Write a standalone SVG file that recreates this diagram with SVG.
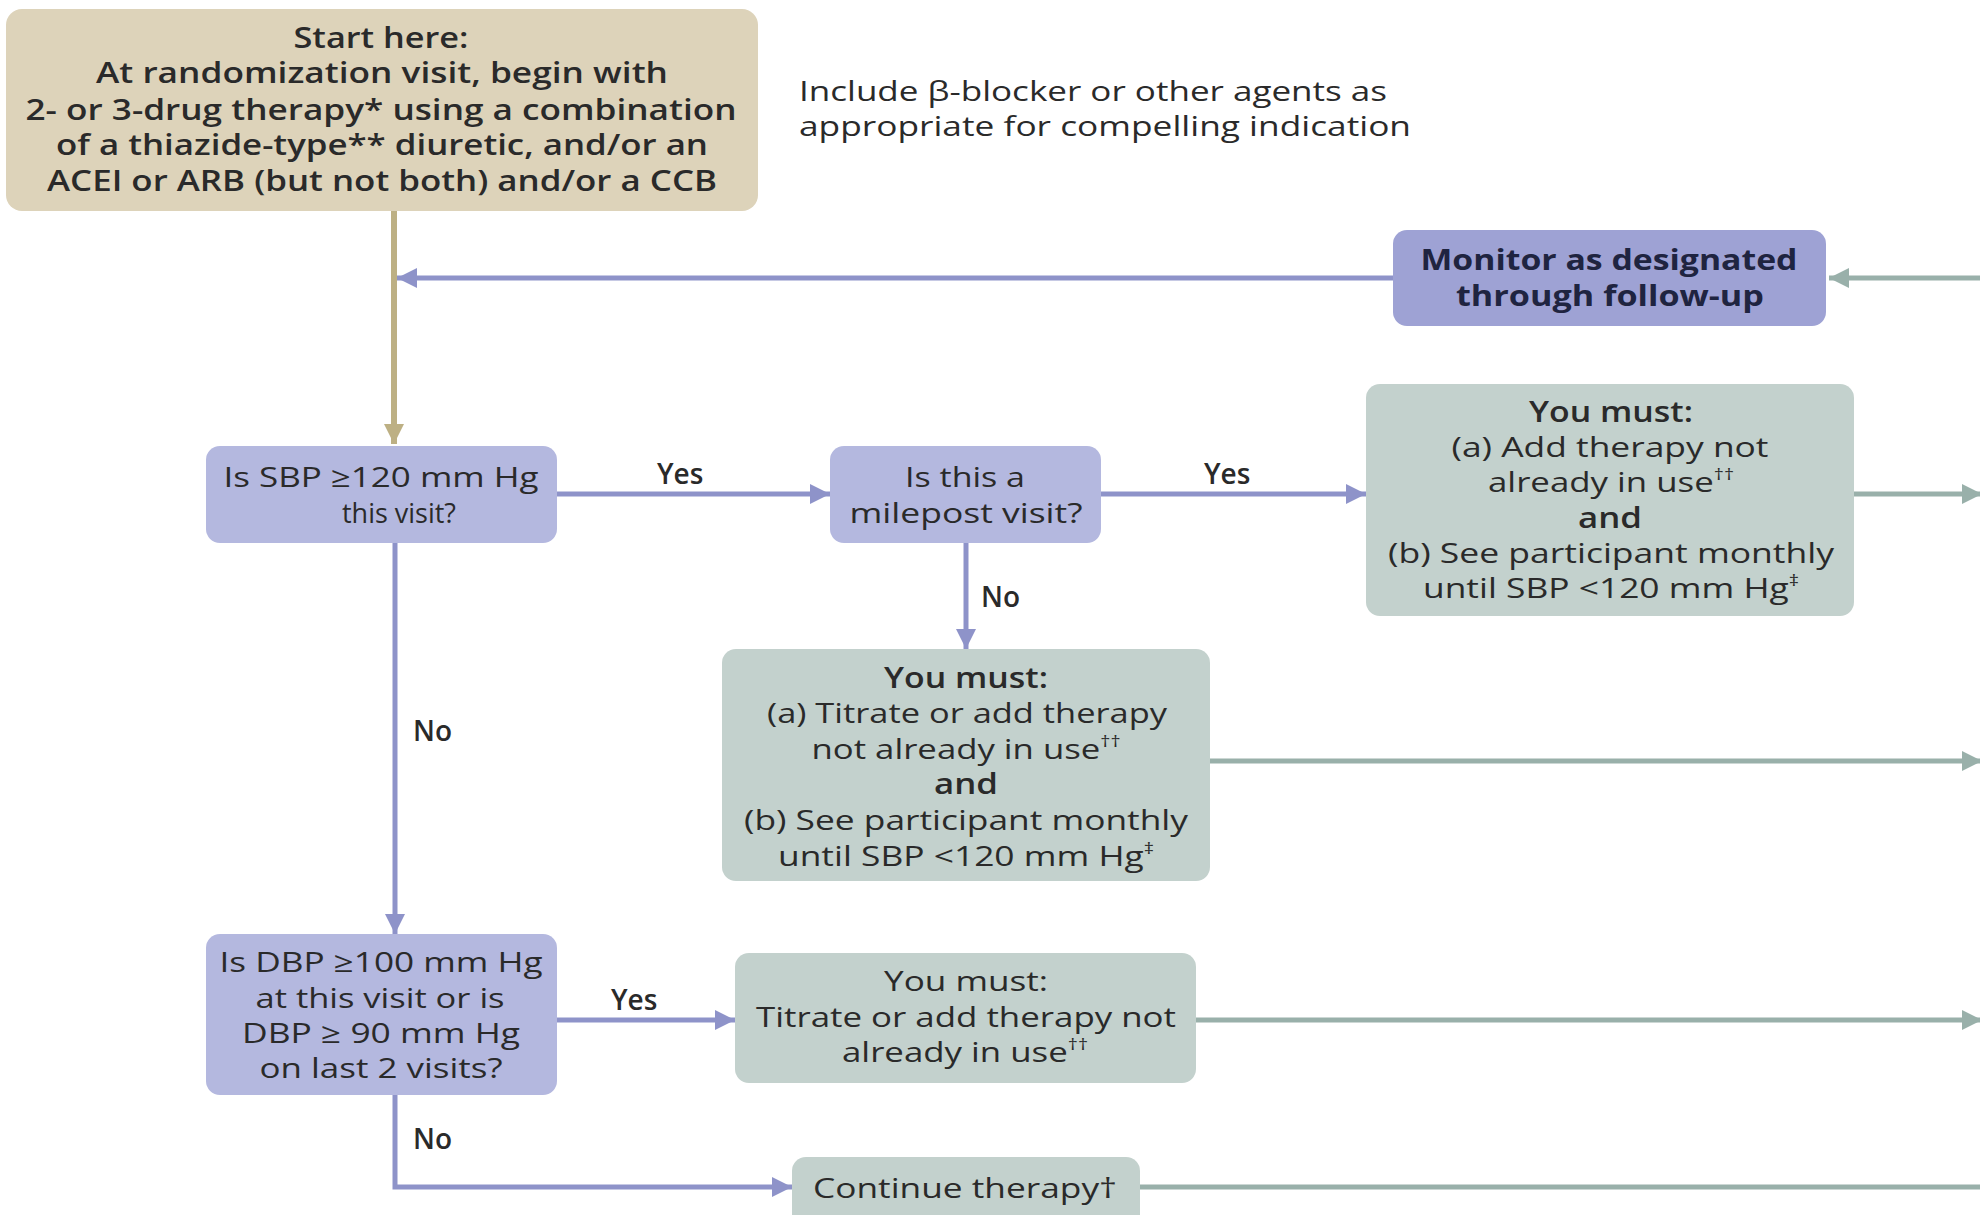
<svg xmlns="http://www.w3.org/2000/svg" width="1980" height="1215" viewBox="0 0 1980 1215">
<style>
text{font-family:"Open Sans","Noto Sans","Liberation Sans",sans-serif;fill:#2a2a2a;font-size:28px;text-anchor:middle}
.c{font-size:28px}
.b{font-weight:600}
.bb{font-weight:700;fill:#1f2440}
.lbl{font-weight:600;text-anchor:start}
.tan{fill:#DDD3BA}
.blue{fill:#B4B8DF}
.mon{fill:#9EA2D4}
.grn{fill:#C3D1CD}
.lb{stroke:#8E93C9;stroke-width:5;fill:none}
.lg{stroke:#99B0AA;stroke-width:5;fill:none}
.lt{stroke:#BDB084;stroke-width:6;fill:none}
</style>
<defs>
<marker id="ab" markerUnits="userSpaceOnUse" markerWidth="22" markerHeight="22" refX="20" refY="11" orient="auto"><path d="M0,1 L20,11 L0,21 Z" fill="#8E93C9"/></marker>
<marker id="ag" markerUnits="userSpaceOnUse" markerWidth="22" markerHeight="22" refX="20" refY="11" orient="auto"><path d="M0,1 L20,11 L0,21 Z" fill="#99B0AA"/></marker>
<marker id="at" markerUnits="userSpaceOnUse" markerWidth="22" markerHeight="22" refX="20" refY="11" orient="auto"><path d="M0,1 L20,11 L0,21 Z" fill="#BDB084"/></marker>
</defs>
<rect width="1980" height="1215" fill="#ffffff"/>
<g id="connectors">
<path class="lt" d="M394,210 L394,444" marker-end="url(#at)"/>
<path class="lb" d="M1393,278 L397,278" marker-end="url(#ab)"/>
<path class="lg" d="M1980,278 L1829,278" marker-end="url(#ag)"/>
<path class="lb" d="M557,494 L830,494" marker-end="url(#ab)"/>
<path class="lb" d="M1101,494 L1366,494" marker-end="url(#ab)"/>
<path class="lg" d="M1854,494 L1982,494" marker-end="url(#ag)"/>
<path class="lb" d="M966,543 L966,649" marker-end="url(#ab)"/>
<path class="lg" d="M1210,761 L1982,761" marker-end="url(#ag)"/>
<path class="lb" d="M395,543 L395,934" marker-end="url(#ab)"/>
<path class="lb" d="M557,1020 L735,1020" marker-end="url(#ab)"/>
<path class="lg" d="M1196,1020 L1982,1020" marker-end="url(#ag)"/>
<path class="lb" d="M395,1095 L395,1187 L792,1187" marker-end="url(#ab)"/>
<path class="lg" d="M1140,1187 L1980,1187"/>
<text class="lbl" x="657" y="484">Yes</text>
<text class="lbl" x="1204" y="484">Yes</text>
<text class="lbl" x="981" y="607">No</text>
<text class="lbl" x="413" y="741">No</text>
<text class="lbl" x="611" y="1010">Yes</text>
<text class="lbl" x="413" y="1149">No</text>
</g>
<g id="start">
<rect class="tan" x="6" y="9" width="752" height="202" rx="16"/>
<text class="b" x="381" y="48" textLength="175" lengthAdjust="spacingAndGlyphs">Start here:</text>
<text class="b" x="382" y="83" textLength="572" lengthAdjust="spacingAndGlyphs">At randomization visit, begin with</text>
<text class="b" x="381" y="120" textLength="711" lengthAdjust="spacingAndGlyphs">2- or 3-drug therapy* using a combination</text>
<text class="b" x="382" y="155" textLength="652" lengthAdjust="spacingAndGlyphs">of a thiazide-type** diuretic, and/or an</text>
<text class="b" x="382" y="191" textLength="670" lengthAdjust="spacingAndGlyphs">ACEI or ARB (but not both) and/or a CCB</text>
</g>
<g id="note">
<text x="799" y="101" style="text-anchor:start" textLength="588" lengthAdjust="spacingAndGlyphs">Include β-blocker or other agents as</text>
<text x="799" y="136" style="text-anchor:start" textLength="612" lengthAdjust="spacingAndGlyphs">appropriate for compelling indication</text>
</g>
<g id="monitor">
<rect class="mon" x="1393" y="230" width="433" height="96" rx="14"/>
<text class="bb" x="1609" y="270" textLength="377" lengthAdjust="spacingAndGlyphs">Monitor as designated</text>
<text class="bb" x="1610" y="306" textLength="308" lengthAdjust="spacingAndGlyphs">through follow-up</text>
</g>
<g id="sbp">
<rect class="blue" x="206" y="446" width="351" height="97" rx="14"/>
<text class="c" x="381" y="487" textLength="315" lengthAdjust="spacingAndGlyphs">Is SBP ≥120 mm Hg</text>
<text class="c" x="399" y="523" textLength="114" lengthAdjust="spacingAndGlyphs">this visit?</text>
</g>
<g id="milepost">
<rect class="blue" x="830" y="446" width="271" height="97" rx="14"/>
<text class="c" x="965" y="487" textLength="120" lengthAdjust="spacingAndGlyphs">Is this a</text>
<text class="c" x="966" y="523" textLength="233" lengthAdjust="spacingAndGlyphs">milepost visit?</text>
</g>
<g id="must1">
<rect class="grn" x="1366" y="384" width="488" height="232" rx="14"/>
<text class="b" x="1611" y="422" textLength="164" lengthAdjust="spacingAndGlyphs">You must:</text>
<text x="1610" y="457" textLength="317" lengthAdjust="spacingAndGlyphs">(a) Add therapy not</text>
<text x="1611" y="492" textLength="246" lengthAdjust="spacingAndGlyphs">already in use<tspan font-size="16" dy="-12">††</tspan></text>
<text class="b" x="1610" y="528" textLength="64" lengthAdjust="spacingAndGlyphs">and</text>
<text x="1611" y="563" textLength="446" lengthAdjust="spacingAndGlyphs">(b) See participant monthly</text>
<text x="1611" y="598" textLength="376" lengthAdjust="spacingAndGlyphs">until SBP &lt;120 mm Hg<tspan font-size="16" dy="-12">‡</tspan></text>
</g>
<g id="must2">
<rect class="grn" x="722" y="649" width="488" height="232" rx="14"/>
<text class="b" x="966" y="688" textLength="164" lengthAdjust="spacingAndGlyphs">You must:</text>
<text x="967" y="723" textLength="400" lengthAdjust="spacingAndGlyphs">(a) Titrate or add therapy</text>
<text x="966" y="759" textLength="309" lengthAdjust="spacingAndGlyphs">not already in use<tspan font-size="16" dy="-12">††</tspan></text>
<text class="b" x="966" y="794" textLength="64" lengthAdjust="spacingAndGlyphs">and</text>
<text x="966" y="830" textLength="444" lengthAdjust="spacingAndGlyphs">(b) See participant monthly</text>
<text x="966" y="866" textLength="376" lengthAdjust="spacingAndGlyphs">until SBP &lt;120 mm Hg<tspan font-size="16" dy="-12">‡</tspan></text>
</g>
<g id="dbp">
<rect class="blue" x="206" y="934" width="351" height="161" rx="14"/>
<text class="c" x="381" y="972" textLength="323" lengthAdjust="spacingAndGlyphs">Is DBP ≥100 mm Hg</text>
<text class="c" x="380" y="1008" textLength="249" lengthAdjust="spacingAndGlyphs">at this visit or is</text>
<text class="c" x="381" y="1043" textLength="278" lengthAdjust="spacingAndGlyphs">DBP ≥ 90 mm Hg</text>
<text class="c" x="381" y="1078" textLength="243" lengthAdjust="spacingAndGlyphs">on last 2 visits?</text>
</g>
<g id="must3">
<rect class="grn" x="735" y="953" width="461" height="130" rx="14"/>
<text class="c" x="966" y="991" textLength="164" lengthAdjust="spacingAndGlyphs">You must:</text>
<text class="c" x="966" y="1027" textLength="420" lengthAdjust="spacingAndGlyphs">Titrate or add therapy not</text>
<text class="c" x="965" y="1062" textLength="246" lengthAdjust="spacingAndGlyphs">already in use<tspan font-size="16" dy="-12">††</tspan></text>
</g>
<g id="continue">
<rect class="grn" x="792" y="1157" width="348" height="80" rx="14"/>
<text x="965" y="1198" textLength="304" lengthAdjust="spacingAndGlyphs">Continue therapy†</text>
</g>
</svg>
